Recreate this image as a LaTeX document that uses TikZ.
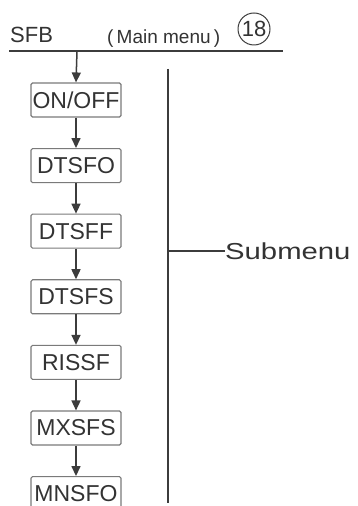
\documentclass[tikz,border=0pt]{standalone}
\usepackage{fontspec}
\setmainfont{Liberation Sans}
\usepackage{graphicx}
\usetikzlibrary{arrows.meta}
\definecolor{ink}{HTML}{333333}
\definecolor{frame}{HTML}{7A7A7A}
\definecolor{rule}{HTML}{3C3C3C}
\newcommand{\headfont}{\fontsize{22}{24}\selectfont}
\newcommand{\notefont}{\fontsize{19}{21}\selectfont}
\newcommand{\boxfont}{\fontsize{23}{25}\selectfont}
\tikzset{
  menubox/.style={draw=frame, line width=1.1pt, rounded corners=1.5pt, text=ink,
    font=\boxfont, minimum width=90pt, minimum height=34pt, inner sep=0pt},
  flow/.style={draw=rule, line width=1.5pt, -{Triangle[length=10pt,width=9pt]}},
}

\begin{document}
\begin{tikzpicture}[x=1pt,y=1pt]
  \fill[white] (0,0) rectangle (358,506);
  \clip (0,0) rectangle (358,506);

  % Header: menu name, main menu note and page number.
  \node[anchor=base west, text=ink, font=\headfont, inner sep=0pt] (sfb) at (10,463) {SFB};
  \node[anchor=base west, text=ink, font=\notefont, inner sep=0pt] (mainmenu) at (107,462) {(\,Main menu\,)};
  \node[circle, inner sep=0pt, text=ink, font=\headfont] (num) at (254,477) {18};
  \draw[rule, line width=1pt] (num.center) circle[radius=16];
  \coordinate (headl) at (9,455);
  \coordinate (headr) at (283,455);
  \draw[rule, line width=1.6pt] (headl) -- (headr);

  % Submenu items, one below the other.
  \foreach \name/\txt [count=\i] in {onoff/{ON/OFF},dtsfo/DTSFO,dtsff/DTSFF,dtsfs/DTSFS,rissf/RISSF,mxsfs/MXSFS,mnsfo/MNSFO} {
    \pgfmathsetmacro{\yy}{506-100-(\i-1)*65.6}
    \node[menubox] (\name) at (76,\yy) {\txt};
  }

  \coordinate (start) at (77,455);
  \draw[flow] (start) -- (onoff.north);
  \draw[flow] (onoff) -- (dtsfo);
  \draw[flow] (dtsfo) -- (dtsff);
  \draw[flow] (dtsff) -- (dtsfs);
  \draw[flow] (dtsfs) -- (rissf);
  \draw[flow] (rissf) -- (mxsfs);
  \draw[flow] (mxsfs) -- (mnsfo);

  % Bracket line with the submenu label.
  \coordinate (bartop) at (168,437);
  \coordinate (barbot) at (168,3);
  \coordinate (barmid) at (168,255);
  \draw[rule, line width=1.3pt] (bartop) -- (barbot);
  \node[anchor=west, text=ink, font=\headfont, inner sep=0pt] (submenu) at (225,255)
    {\scalebox{1.33}[1.05]{Submenu}};
  \draw[rule, line width=1.3pt] (barmid) -- (submenu.west);
\end{tikzpicture}
\end{document}
